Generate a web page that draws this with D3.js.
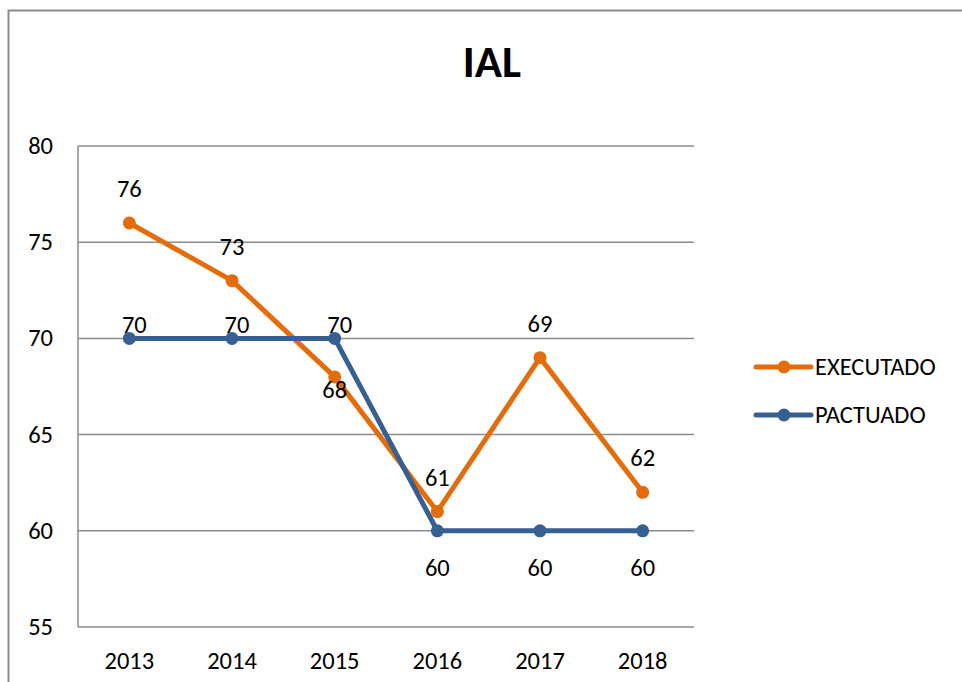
<!DOCTYPE html>
<html>
<head>
<meta charset="utf-8">
<script src="https://cdn.jsdelivr.net/npm/d3@7"></script>
<style>
  body { margin: 0; background: #fff; }
  text { font-family: Carlito, Calibri, Lato, sans-serif; fill: #000; }
</style>
</head>
<body>
<svg id="chart" width="962" height="682"></svg>
<script>
// data
const years = ["2013", "2014", "2015", "2016", "2017", "2018"];
const executado = [76, 73, 68, 61, 69, 62];
const pactuado = [70, 70, 70, 60, 60, 60];
const yTicks = [55, 60, 65, 70, 75, 80];

const orange = "#E46C0A";
const blue = "#376092";
const fs = "24.5px";

const svg = d3.select("#chart");

// outer frame (chart border)
svg.append("path")
  .attr("d", "M8.5,682 V10.5 H962")
  .attr("fill", "none")
  .attr("stroke", "#8c8c8c")
  .attr("stroke-width", 2);

const plotLeft = 78, plotRight = 694, plotTop = 146, plotBottom = 627;

const x = d3.scaleBand().domain(years).range([plotLeft, plotRight]);
const y = d3.scaleLinear().domain([55, 80]).range([plotBottom, plotTop]);
const cx = d => x(d) + x.bandwidth() / 2;

// gridlines
svg.append("g")
  .selectAll("line")
  .data(yTicks).enter()
  .append("line")
  .attr("x1", plotLeft).attr("x2", plotRight)
  .attr("y1", d => y(d)).attr("y2", d => y(d))
  .attr("stroke", "#8c8c8c")
  .attr("stroke-width", 1.5);

// vertical axis line
svg.append("line")
  .attr("x1", plotLeft).attr("x2", plotLeft)
  .attr("y1", plotTop).attr("y2", plotBottom)
  .attr("stroke", "#8c8c8c")
  .attr("stroke-width", 1.5);

// y labels
svg.append("g")
  .selectAll("text")
  .data(yTicks).enter()
  .append("text")
  .attr("x", 53)
  .attr("y", d => y(d) + 8)
  .attr("text-anchor", "end")
  .style("font-size", fs)
  .text(d => d);

// x labels
svg.append("g")
  .selectAll("text")
  .data(years).enter()
  .append("text")
  .attr("x", d => cx(d))
  .attr("y", 669)
  .attr("text-anchor", "middle")
  .style("font-size", fs)
  .text(d => d);

// title
svg.append("text")
  .attr("x", 492)
  .attr("y", 77)
  .attr("text-anchor", "middle")
  .style("font-size", "45px")
  .style("font-weight", "bold")
  .text("IAL");

const line = d3.line()
  .x((d, i) => cx(years[i]))
  .y(d => y(d));

function drawSeries(values, color) {
  svg.append("path")
    .datum(values)
    .attr("d", line)
    .attr("fill", "none")
    .attr("stroke", color)
    .attr("stroke-width", 5)
    .attr("stroke-linejoin", "round");
  svg.append("g")
    .selectAll("circle")
    .data(values).enter()
    .append("circle")
    .attr("cx", (d, i) => cx(years[i]))
    .attr("cy", d => y(d))
    .attr("r", 6.5)
    .attr("fill", color);
}

drawSeries(executado, orange);
drawSeries(pactuado, blue);

// data labels
svg.append("g")
  .selectAll("text")
  .data(executado).enter()
  .append("text")
  .attr("x", (d, i) => cx(years[i]))
  .attr("y", (d, i) => d < pactuado[i] ? y(d) + 21 : y(d) - 26)
  .attr("text-anchor", "middle")
  .style("font-size", fs)
  .text(d => d);

svg.append("g")
  .selectAll("text")
  .data(pactuado).enter()
  .append("text")
  .attr("x", (d, i) => cx(years[i]) + (d >= 65 ? 5 : 0))
  .attr("y", (d, i) => d >= 65 ? y(d) - 5 : y(d) + 45)
  .attr("text-anchor", "middle")
  .style("font-size", fs)
  .text(d => d);

// legend
const legend = [["EXECUTADO", orange], ["PACTUADO", blue]];
const lg = svg.append("g")
  .selectAll("g")
  .data(legend).enter()
  .append("g")
  .attr("transform", (d, i) => "translate(756," + (367 + i * 48) + ")");
lg.append("line")
  .attr("x1", 0).attr("x2", 55)
  .attr("stroke", d => d[1])
  .attr("stroke-width", 5)
  .attr("stroke-linecap", "round");
lg.append("circle")
  .attr("cx", 28).attr("r", 6.5)
  .attr("fill", d => d[1]);
lg.append("text")
  .attr("x", 59)
  .attr("y", 8)
  .style("font-size", fs)
  .text(d => d[0]);
</script>
</body>
</html>
